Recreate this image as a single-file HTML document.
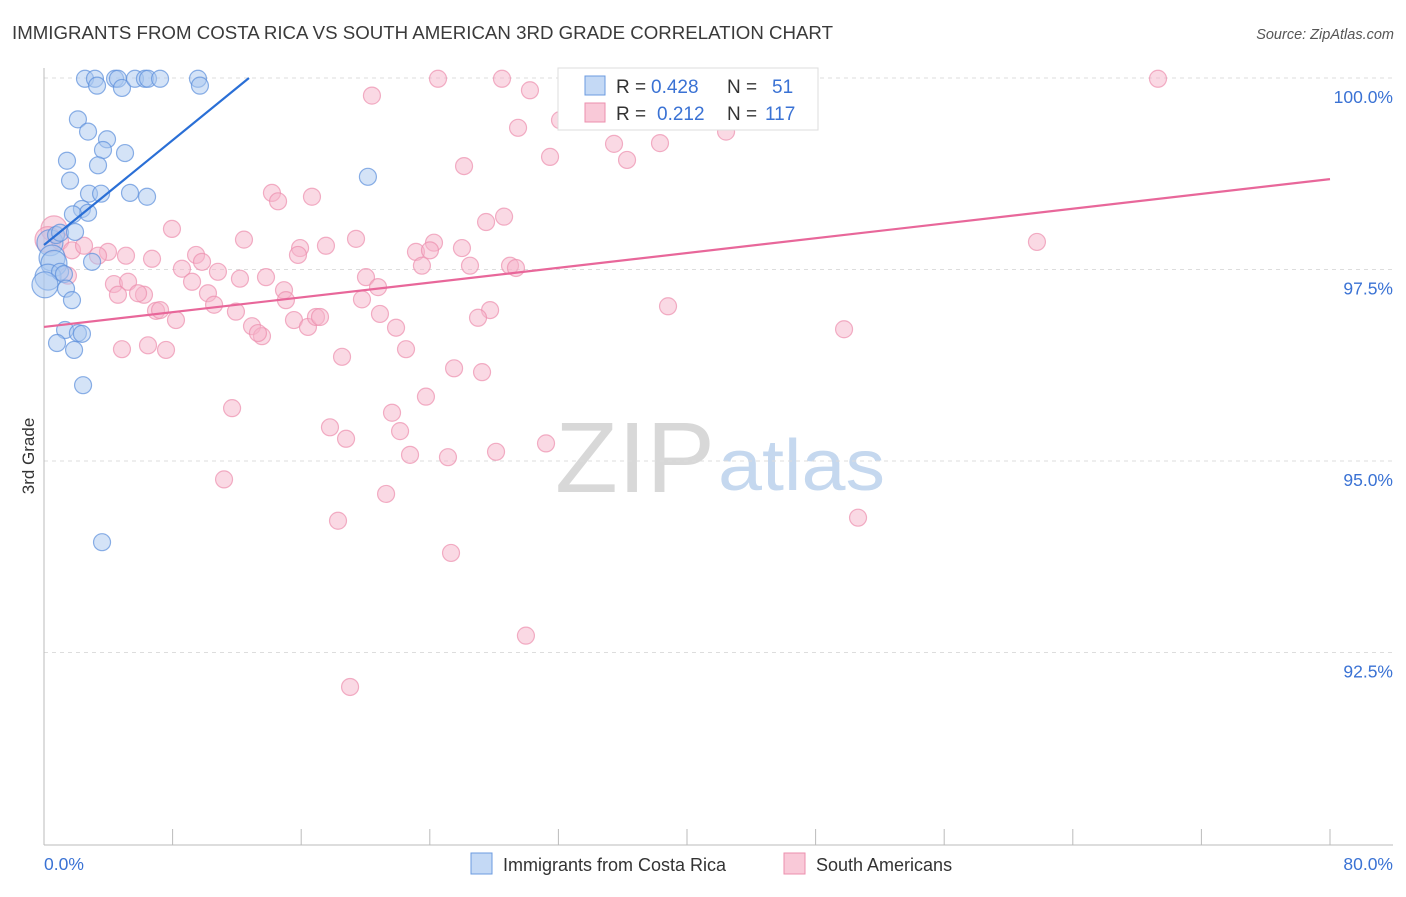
<!DOCTYPE html>
<html><head><meta charset="utf-8"><style>
body{margin:0;background:#fff;font-family:"Liberation Sans",sans-serif;}
svg text{font-family:"Liberation Sans",sans-serif;}
</style></head><body>
<svg id="chart" width="1406" height="892" viewBox="0 0 1406 892" xmlns="http://www.w3.org/2000/svg">
<text x="12" y="39" font-size="18.5" fill="#3a3a3a" textLength="821" lengthAdjust="spacingAndGlyphs">IMMIGRANTS FROM COSTA RICA VS SOUTH AMERICAN 3RD GRADE CORRELATION CHART</text>
<text x="1394" y="39" font-size="14.5" fill="#555" text-anchor="end" font-style="italic">Source: ZipAtlas.com</text>
<text x="555" y="492" font-size="100" fill="#d8d8d8" font-family="Liberation Serif" textLength="160" lengthAdjust="spacingAndGlyphs">ZIP</text>
<text x="718" y="490" font-size="72" fill="#c5d8ef" textLength="167" lengthAdjust="spacingAndGlyphs">atlas</text>
<g id="grid"></g>
<g id="axes"></g>
<g id="points"></g>
<g id="lines"></g>
<text transform="translate(34,456) rotate(-90)" font-size="17" fill="#333" text-anchor="middle">3rd Grade</text>
<g>
<rect x="558" y="68" width="260" height="62" fill="#fff" stroke="#ddd"/>
<rect x="585" y="76" width="20" height="19" fill="#c4d9f5" stroke="#6b9be0"/>
<rect x="585" y="103" width="20" height="19" fill="#f9c9d8" stroke="#ec8fae"/>
<text x="616" y="93" font-size="19" fill="#333">R =</text>
<text x="651" y="93" font-size="19" fill="#3a72d4">0.428</text>
<text x="727" y="93" font-size="19" fill="#333">N =</text>
<text x="772" y="93" font-size="19" fill="#3a72d4">51</text>
<text x="616" y="120" font-size="19" fill="#333">R =</text>
<text x="657" y="120" font-size="19" fill="#3a72d4">0.212</text>
<text x="727" y="120" font-size="19" fill="#333">N =</text>
<text x="765" y="120" font-size="19" fill="#3a72d4">117</text>
</g>
<g>
<rect x="471" y="853" width="21" height="21" fill="#c4d9f5" stroke="#6b9be0"/>
<text x="503" y="871" font-size="18" fill="#333">Immigrants from Costa Rica</text>
<rect x="784" y="853" width="21" height="21" fill="#f9c9d8" stroke="#ec8fae"/>
<text x="816" y="871" font-size="18" fill="#333">South Americans</text>
</g>
</svg>
<script>
const xTicksPct=[0,8,16,24,32,40,48,56,64,72,80];
const yTicks=[100,97.5,95,92.5];
const yTickLabels=["100.0%","97.5%","95.0%","92.5%"];
const xEndLabels=["0.0%","80.0%"];
const blueX=[2.55,3.17,3.30,4.42,4.60,4.85,5.66,6.28,6.47,7.22,9.58,9.70,2.11,2.74,3.92,3.67,1.43,5.04,3.36,1.62,20.15,2.80,3.55,5.35,6.41,2.36,2.74,1.80,0.37,0.75,1.00,1.93,0.50,0.62,2.99,0.25,1.00,1.24,0.06,1.37,1.74,1.31,2.11,2.36,0.81,1.87,2.43,3.61];
const blueY=[99.99,99.99,99.90,99.99,99.99,99.87,99.99,99.99,99.99,99.99,99.99,99.90,99.46,99.30,99.20,99.06,98.92,99.02,98.86,98.66,98.71,98.49,98.49,98.50,98.45,98.29,98.24,98.22,97.85,97.95,97.98,97.99,97.65,97.58,97.60,97.40,97.47,97.44,97.30,97.25,97.10,96.71,96.67,96.66,96.54,96.45,95.99,93.94];
const pinkX=[69.30,24.51,28.49,32.60,39.94,30.23,20.40,32.10,29.49,42.43,35.46,38.32,31.48,36.27,26.13,14.18,14.56,16.67,28.62,27.50,7.96,0.62,0.25,1.00,12.44,19.41,17.54,15.93,15.80,24.26,26.00,23.14,24.01,61.77,3.98,3.36,1.74,2.49,6.72,9.46,9.83,5.10,8.58,10.82,12.19,13.81,14.93,20.03,23.51,26.50,28.99,29.36,4.35,5.23,1.49,9.21,10.20,6.22,5.85,4.60,6.97,7.22,8.21,10.58,11.94,12.94,13.56,13.31,15.55,16.42,16.92,17.17,15.05,19.78,20.78,20.90,21.90,27.75,27.00,38.82,49.77,22.52,18.54,25.51,27.25,4.85,6.47,7.59,11.70,21.65,23.76,17.79,18.79,22.15,22.77,25.13,28.12,31.23,11.20,21.28,18.29,50.64,25.32,29.98,19.04];
const pinkY=[99.99,99.99,99.99,99.99,99.99,99.84,99.77,99.45,99.35,99.30,99.14,99.15,98.97,98.93,98.85,98.50,98.39,98.45,98.19,98.12,98.03,98.03,97.89,97.87,97.89,97.90,97.81,97.78,97.69,97.85,97.78,97.73,97.75,97.86,97.73,97.68,97.75,97.81,97.64,97.69,97.60,97.68,97.51,97.47,97.38,97.40,97.23,97.40,97.55,97.55,97.55,97.52,97.31,97.34,97.42,97.34,97.19,97.17,97.19,97.17,96.96,96.97,96.84,97.04,96.95,96.76,96.63,96.67,96.84,96.75,96.88,96.88,97.10,97.11,97.27,96.92,96.74,96.97,96.87,97.02,96.72,96.46,96.36,96.21,96.16,96.46,96.51,96.45,95.69,95.63,95.84,95.44,95.29,95.39,95.08,95.05,95.12,95.23,94.76,94.57,94.22,94.26,93.80,92.72,92.05];
const blueLine=[[0,97.82],[12.75,100]];
const pinkLine=[[0,96.75],[80,98.68]];
const NS="http://www.w3.org/2000/svg";
const X0=44,X1=1330,YTOP=78,PXPER=76.6;
const sx=v=>X0+(v/80)*(X1-X0);
const sy=v=>YTOP+(100-v)*PXPER;
function mk(tag,attrs,parent){const e=document.createElementNS(NS,tag);for(const k in attrs)e.setAttribute(k,attrs[k]);parent.appendChild(e);return e;}
const grid=document.getElementById('grid'),axes=document.getElementById('axes'),pts=document.getElementById('points'),lines=document.getElementById('lines');
yTicks.forEach((t,i)=>{
 const l=mk('line',{x1:X0,x2:1393,y1:sy(t),y2:sy(t),stroke:'#ddd','stroke-dasharray':'4,4'},grid);
 
 
 const tx=mk('text',{x:1393,y:sy(t)+25,'font-size':'17.5',fill:'#3a72d4','text-anchor':'end'},axes);
 tx.textContent=yTickLabels[i];
 
 
});
const ya=mk('line',{x1:X0,x2:X0,y1:68,y2:845,stroke:'#bbb'},axes);


const xa=mk('line',{x1:X0,x2:1393,y1:845,y2:845,stroke:'#bbb'},axes);


xTicksPct.forEach(t=>{
 const l=mk('line',{x1:sx(t),x2:sx(t),y1:829,y2:845,stroke:'#bbb'},axes);
 
 
});
[[0,'start',44],[80,'end',1393]].forEach((d,i)=>{
 const tx=mk('text',{x:d[2],y:870,'font-size':'17.5',fill:'#3a72d4','text-anchor':d[1]},axes);
 tx.textContent=xEndLabels[i];
 
 
});
function dots(xs,ys,fill,stroke,name){
 xs.forEach((x,i)=>{
  const big=(x<0.7&&ys[i]>97.2&&ys[i]<98.1);
  const c=mk('circle',{cx:sx(x),cy:sy(ys[i]),r:big?13:8.5,fill:fill,'fill-opacity':0.5,stroke:stroke,'stroke-opacity':0.7,'stroke-width':1.2},pts);
  
  
 });
}
dots(pinkX,pinkY,'#f6b3c9','#ec8fae','south-americans-point');
dots(blueX,blueY,'#a9c7f0','#5b8fdc','costa-rica-point');
const bl=mk('line',{x1:sx(blueLine[0][0]),y1:sy(blueLine[0][1]),x2:sx(blueLine[1][0]),y2:sy(blueLine[1][1]),stroke:'#2a6fd6','stroke-width':2.2},lines);


const pl=mk('line',{x1:sx(pinkLine[0][0]),y1:sy(pinkLine[0][1]),x2:sx(pinkLine[1][0]),y2:sy(pinkLine[1][1]),stroke:'#e8679a','stroke-width':2.2},lines);


</script>
</body></html>
